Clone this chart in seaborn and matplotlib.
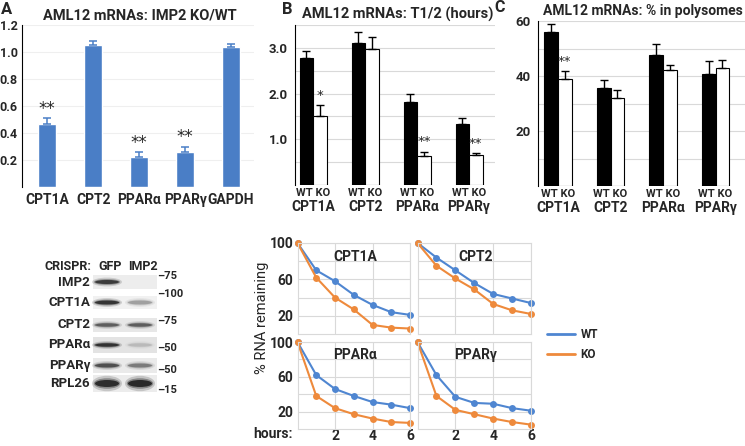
import matplotlib
matplotlib.use("Agg")
import matplotlib.pyplot as plt
from matplotlib.lines import Line2D
from matplotlib.patches import Rectangle, Ellipse
import numpy as np
import pandas as pd
import seaborn as sns

# --- panel A: KO/WT mRNA ratio ---
ratio_genes = ["CPT1A", "CPT2", "PPARα", "PPARγ", "GAPDH"]
ratio_vals = [0.47, 1.05, 0.22, 0.26, 1.04]
ratio_errs = [0.04, 0.03, 0.04, 0.04, 0.02]
ratio_stars = ["**", "", "**", "**", ""]

# --- panels B, C: WT vs KO ---
genes = ["CPT1A", "CPT2", "PPARα", "PPARγ"]
genotypes = ["WT", "KO"]

thalf_wt = [2.78, 3.10, 1.82, 1.33]
thalf_ko = [1.52, 2.97, 0.64, 0.66]
thalf_wt_err = [0.15, 0.25, 0.16, 0.13]
thalf_ko_err = [0.22, 0.27, 0.09, 0.04]
thalf_stars = ["*", "", "**", "**"]

poly_wt = [56.0, 35.8, 47.8, 40.7]
poly_ko = [38.9, 32.0, 42.1, 42.9]
poly_wt_err = [3.0, 2.6, 4.0, 4.7]
poly_ko_err = [2.8, 2.8, 2.0, 2.8]
poly_stars = ["**", "", "", ""]

# --- decay curves (% RNA remaining) ---
hours = [0, 1, 2, 3, 4, 5, 6]
cpt1a_wt = [100, 70, 58, 43, 32, 24, 21]
cpt1a_ko = [100, 62, 40, 27, 10, 7, 6]
cpt2_wt = [100, 84, 70, 56, 44, 39, 34]
cpt2_ko = [100, 75, 61, 49, 33, 26, 22]
ppara_wt = [100, 62, 46, 38, 31, 28, 24]
ppara_ko = [100, 38, 24, 17, 12, 8, 7]
pparg_wt = [100, 62, 37, 30, 29, 24, 21]
pparg_ko = [100, 38, 22, 17, 12, 8, 5]

# --- western blot ---
blot_rows = ["IMP2", "CPT1A", "CPT2", "PPARα", "PPARγ", "RPL26"]
blot_lanes = ["GFP", "IMP2"]
band_gfp = [0.85, 0.9, 0.6, 0.9, 0.7, 0.95]
band_imp2 = [0.0, 0.3, 0.6, 0.15, 0.45, 1.0]
blot_kda = ["75", "100", "75", "50", "50", "15"]

BAR_BLUE = "#4a7ec6"
WT_BLUE = "#4f86d1"
KO_ORANGE = "#ee8a3c"
GRID = "#d9d9d9"

W, H = 745, 446


def box(x0, y0, x1, y1):
    # pixel box (top-left origin) -> figure fraction rect
    return [x0 / W, 1 - y1 / H, (x1 - x0) / W, (y1 - y0) / H]


def ftext(x, y, s, **kw):
    kw.setdefault("weight", "bold")
    fig.text(x / W, 1 - y / H, s, **kw)


sns.set_style("white")
plt.rcParams["font.family"] = ["Roboto", "DejaVu Sans"]
plt.rcParams["font.weight"] = "bold"

fig = plt.figure(figsize=(W / 100, H / 100), dpi=100)

# ---------------- panel A ----------------
axA = fig.add_axes(box(22, 25, 254, 187))
dfA = pd.DataFrame({"gene": ratio_genes, "ratio": ratio_vals})
sns.barplot(data=dfA, x="gene", y="ratio", color=BAR_BLUE, saturation=1,
            width=0.4, ax=axA)
xs = [p.get_x() + p.get_width() / 2 for p in axA.patches]
tops = [p.get_height() for p in axA.patches]
axA.errorbar(xs, tops, yerr=[np.zeros(len(xs)), ratio_errs], fmt="none",
             ecolor=BAR_BLUE, elinewidth=1.1, capsize=2.8, capthick=1.1)
for x, t, e, s in zip(xs, tops, ratio_errs, ratio_stars):
    if s:
        axA.annotate(s, (x, t + e), xytext=(0, 3), textcoords="offset points",
                     ha="center", va="baseline", fontsize=12,
                     family="DejaVu Sans", weight="normal")
axA.set_xlim(-0.55, 4.5)
axA.set_ylim(0, 1.2)
axA.set_yticks([0.2, 0.4, 0.6, 0.8, 1.0, 1.2])
axA.set_yticklabels(["0.2", "0.4", "0.6", "0.8", "1.0", "1.2"])
axA.set_xlabel("")
axA.set_ylabel("")
axA.grid(axis="y", color="#efefef", lw=0.8)
axA.set_axisbelow(True)
for side in ("top", "right", "bottom"):
    axA.spines[side].set_visible(False)
axA.spines["left"].set_color("black")
axA.spines["left"].set_linewidth(0.8)
axA.tick_params(axis="y", length=2, pad=1, labelsize=9)
axA.tick_params(axis="x", length=0, pad=4.5, labelsize=10)

ftext(7, 9, "A", fontsize=12, ha="center", va="center")
ftext(140, 16, "AML12 mRNAs: IMP2 KO/WT", fontsize=10.5, ha="center", va="center")


# ---------------- panels B and C ----------------
def paired_panel(ax, wt, ko, wt_err, ko_err, stars, ymax, labeled, gridded, fmt):
    df = pd.DataFrame({"gene": genes * 2,
                       "genotype": ["WT"] * len(genes) + ["KO"] * len(genes),
                       "value": wt + ko})
    sns.barplot(data=df, x="gene", y="value", hue="genotype", hue_order=genotypes,
                palette={"WT": "black", "KO": "white"}, edgecolor="black",
                linewidth=0.8, width=0.52, saturation=1, legend=False, ax=ax)
    for cont, errs, is_ko in zip(ax.containers, (wt_err, ko_err), (False, True)):
        bx = [b.get_x() + b.get_width() / 2 for b in cont]
        by = [b.get_height() for b in cont]
        ax.errorbar(bx, by, yerr=[np.zeros(len(bx)), errs], fmt="none",
                    ecolor="black", elinewidth=1, capsize=2.6, capthick=1)
        if is_ko:
            for x, t, e, s in zip(bx, by, errs, stars):
                if s:
                    ax.annotate(s, (x, t + e), xytext=(0, 4.5),
                                textcoords="offset points", ha="center",
                                va="baseline", fontsize=9.5,
                                family="DejaVu Sans", weight="normal")
    ax.set_ylim(0, ymax)
    ax.set_yticks(labeled)
    ax.set_yticklabels([fmt % v for v in labeled])
    ax.set_yticks(gridded, minor=True)
    ax.grid(axis="y", which="both", color=GRID, lw=0.8)
    ax.set_axisbelow(True)
    # "WT KO" under each pair, gene name below it
    ax.set_xticks(range(len(genes)))
    ax.set_xticklabels([" ".join(genotypes)] * len(genes))
    ax.tick_params(axis="x", length=0, pad=2, labelsize=8)
    for i, g in enumerate(genes):
        ax.annotate(g, (i, 0), xycoords=("data", "axes fraction"),
                    xytext=(0, -16), textcoords="offset points",
                    ha="center", va="center", fontsize=10, weight="bold")
    ax.tick_params(axis="y", which="major", length=3, pad=2, labelsize=9.5)
    ax.tick_params(axis="y", which="minor", length=0)
    ax.set_xlabel("")
    ax.set_ylabel("")
    for side in ("top", "right", "bottom"):
        ax.spines[side].set_visible(False)
    ax.spines["left"].set_color("black")
    ax.spines["left"].set_linewidth(0.8)


axB = fig.add_axes(box(295, 25, 495, 185))
paired_panel(axB, thalf_wt, thalf_ko, thalf_wt_err, thalf_ko_err, thalf_stars,
             3.5, [1.0, 2.0, 3.0], [0.5, 1.5, 2.5, 3.5], "%.1f")
axB.set_xlim(-0.35, 3.5)
ftext(287, 9, "B", fontsize=12, ha="center", va="center")
ftext(398, 14, "AML12 mRNAs: T1/2 (hours)", fontsize=10.5, ha="center", va="center")

axC = fig.add_axes(box(538, 21, 745, 186))
paired_panel(axC, poly_wt, poly_ko, poly_wt_err, poly_ko_err, poly_stars,
             60, [20, 40, 60], [10, 30, 50], "%d")
axC.set_xlim(-0.38, 3.56)
ftext(500, 8, "C", fontsize=11.5, ha="center", va="center")
ftext(743, 11, "AML12 mRNAs: % in polysomes", fontsize=10, ha="right", va="center")

# ---------------- decay curves ----------------
rows = []
for gene, wt, ko in zip(genes, (cpt1a_wt, cpt2_wt, ppara_wt, pparg_wt),
                        (cpt1a_ko, cpt2_ko, ppara_ko, pparg_ko)):
    for gt, vals in (("WT", wt), ("KO", ko)):
        for h, v in zip(hours, vals):
            rows.append({"gene": gene, "genotype": gt, "hour": h, "remaining": v})
dfD = pd.DataFrame(rows)

decay_boxes = [(297.5, 243, 410, 334), (417.5, 243, 531, 334),
               (297.5, 342, 410, 429), (417.5, 342, 531, 429)]
for i, (gene, bx) in enumerate(zip(genes, decay_boxes)):
    ax = fig.add_axes(box(*bx))
    sns.lineplot(data=dfD[dfD.gene == gene], x="hour", y="remaining",
                 hue="genotype", hue_order=genotypes,
                 palette={"WT": WT_BLUE, "KO": KO_ORANGE}, marker="o",
                 markersize=5, markeredgewidth=0, linewidth=1.5,
                 errorbar=None, legend=False, ax=ax)
    for ln in ax.lines:
        ln.set_clip_on(False)
    ax.set_xlim(0, 6)
    ax.set_ylim(0, 100)
    ax.set_xticks([2, 4, 6])
    ax.set_yticks([20, 60, 100])
    ax.set_yticks([40, 80], minor=True)
    ax.grid(which="both", color=GRID, lw=0.8)
    ax.set_axisbelow(True)
    for sp in ax.spines.values():
        sp.set_color(GRID)
        sp.set_linewidth(0.8)
    ax.tick_params(which="both", length=0, labelsize=10)
    ax.tick_params(axis="y", pad=3)
    ax.tick_params(axis="x", pad=0)
    if i % 2 == 1:
        ax.set_yticklabels([])
    if i < 2:
        ax.set_xticklabels([])
    ax.set_xlabel("")
    ax.set_ylabel("")
    ax.text(0.51, 0.85, gene, transform=ax.transAxes, ha="center", va="center",
            fontsize=10, weight="bold")

ftext(262, 318, "% RNA remaining", rotation=90, fontsize=10.5, weight="normal",
      ha="center", va="center")
ftext(293, 434, "hours:", fontsize=10, ha="right", va="center")

handles = [Line2D([], [], color=WT_BLUE, lw=2), Line2D([], [], color=KO_ORANGE, lw=2)]
fig.legend(handles, genotypes, loc="upper left",
           bbox_to_anchor=(547 / W, 1 - 328 / H), frameon=False,
           prop={"size": 8.5, "weight": "bold"},
           handlelength=2.4, handletextpad=0.45, labelspacing=0.6,
           borderpad=0, borderaxespad=0)

# ---------------- western blot ----------------
axW = fig.add_axes([0, 0, 1, 1], zorder=-1)
axW.set_xlim(0, W)
axW.set_ylim(H, 0)
axW.axis("off")

strip_y = [(275, 289), (296, 309), (318, 332), (337, 353), (358, 373), (375, 392)]
strip_bg = ["#ededed", "#f1f1f1", "#e7e7e7", "#e3e3e3", "#eaeaea", "#ececec"]
band_h = [4, 4, 3.5, 3.5, 4, 7]
kda_y = [276, 294, 321, 348, 370, 390]
lane_x = [107, 140]

ftext(91, 266, "CRISPR:", fontsize=9, ha="right", va="center")
for lx, lane in zip((110, 143), blot_lanes):
    ftext(lx, 266, lane, fontsize=9, ha="center", va="center")

for i, row in enumerate(blot_rows):
    y0, y1 = strip_y[i]
    yc = (y0 + y1) / 2
    axW.add_patch(Rectangle((93, y0), 64, y1 - y0, fc=strip_bg[i], ec="none"))
    for xc, inten in zip(lane_x, (band_gfp[i], band_imp2[i])):
        if inten <= 0:
            continue
        for sw, sh, a in ((1.25, 2.2, 0.18), (1.1, 1.5, 0.35), (1.0, 1.0, 0.8)):
            axW.add_patch(Ellipse((xc, yc), 24 * sw, band_h[i] * sh,
                                  fc="#111111", alpha=a * inten, ec="none"))
    ftext(90, yc, row, fontsize=9.5, ha="right", va="center")
    ftext(157, kda_y[i], "–" + blot_kda[i], fontsize=8, ha="left", va="center")

fig.savefig("out.png", dpi=100)
